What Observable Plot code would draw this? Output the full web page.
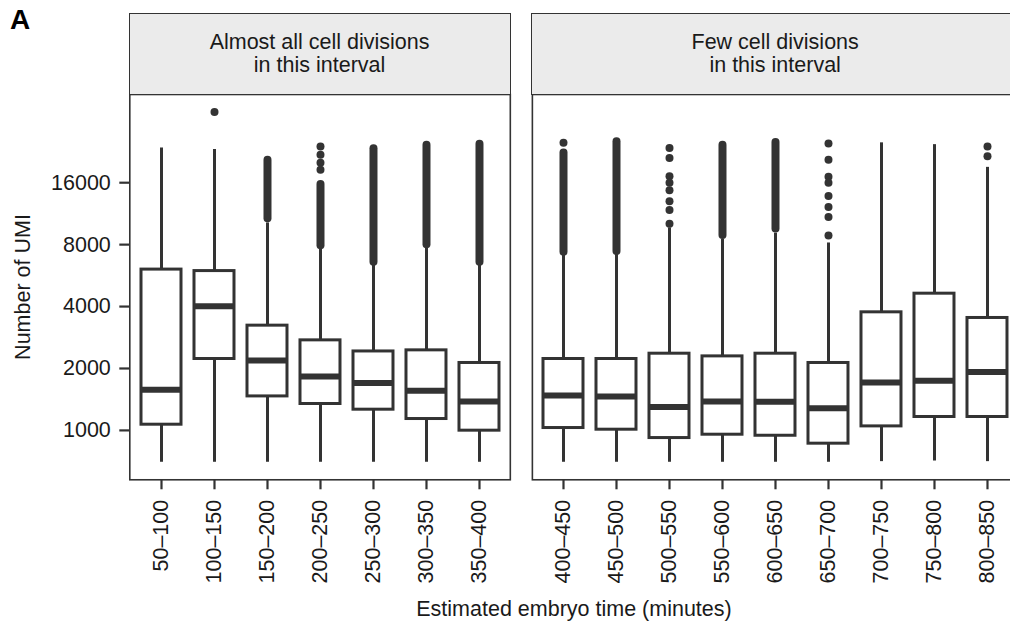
<!DOCTYPE html>
<html>
<head>
<meta charset="utf-8">
<script src="https://cdn.jsdelivr.net/npm/d3@7"></script>
<script src="https://cdn.jsdelivr.net/npm/@observablehq/plot@0.6"></script>
<style>
  html, body { margin: 0; padding: 0; background: #fff; }
  #figure {
    position: relative; width: 1010px; height: 628px; overflow: hidden;
    font-family: "Liberation Sans", Arial, Helvetica, sans-serif; color: #1a1a1a;
  }
  #figure > svg, #figure > .plot { position: absolute; top: 0; }
  .strip {
    position: absolute; box-sizing: border-box; background: #ebebeb;
    border: 1.6px solid #333; display: flex; flex-direction: column;
    align-items: center; justify-content: center; font-size: 21.5px; line-height: 23px;
  }
  .label { position: absolute; white-space: nowrap; line-height: 1; }
</style>
</head>
<body>
<div id="figure"></div>
<script>
// Time bins (minutes) for the two phases of embryo development
const earlyTimes = ["50–100", "100–150", "150–200", "200–250", "250–300", "300–350", "350–400"];
const lateTimes = ["400–450", "450–500", "500–550", "550–600", "600–650", "650–700", "700–750", "750–800", "800–850"];
const stripTitles = [["Almost all cell divisions", "in this interval"], ["Few cell divisions", "in this interval"]];

// Box-plot summaries of UMI counts per cell, in the order early then late bins
const whiskerLow = [700, 700, 700, 700, 700, 700, 700, 700, 700, 700, 700, 700, 700, 705, 710, 705];
const quartile1  = [1066, 2224, 1463, 1344, 1261, 1136, 997, 1027, 1008, 918, 953, 942, 862, 1046, 1162, 1162];
const medians    = [1577, 4010, 2190, 1830, 1700, 1560, 1384, 1480, 1463, 1300, 1384, 1378, 1280, 1711, 1745, 1923];
const quartile3  = [6050, 5950, 3230, 2740, 2420, 2450, 2127, 2224, 2224, 2360, 2290, 2360, 2127, 3750, 4620, 3520];
const whiskerHigh = [23600, 23200, 10200, 7700, 6400, 7800, 6400, 7100, 7200, 9650, 8500, 9100, 8150, 25000, 24500, 19000];

// Dense stacks of outlying cells: [bin, lowest, highest]
const outlierRuns = [
  ["150–200", 10700, 20600], ["200–250", 7900, 15700], ["250–300", 6560, 23400],
  ["300–350", 8000, 24300], ["350–400", 6560, 24600], ["400–450", 7340, 22300],
  ["450–500", 7400, 25300], ["550–600", 8850, 24300], ["600–650", 9540, 25100]
];
// Individual outlying cells: [bin, UMI]
const outlierPoints = [
  ["100–150", 35300],
  ["200–250", 24000], ["200–250", 21900], ["200–250", 20000], ["200–250", 18500],
  ["400–450", 25000],
  ["500–550", 23600], ["500–550", 21100], ["500–550", 17200], ["500–550", 16000],
  ["500–550", 14700], ["500–550", 13000], ["500–550", 11800], ["500–550", 10100],
  ["650–700", 24800], ["650–700", 20700], ["650–700", 17100], ["650–700", 16000],
  ["650–700", 13800], ["650–700", 12200], ["650–700", 10900], ["650–700", 8850],
  ["800–850", 24000], ["800–850", 21500]
];
const yTicks = [1000, 2000, 4000, 8000, 16000];

(function () {
  const times = [...earlyTimes, ...lateTimes];
  const boxes = times.map((time, i) => ({
    time, low: whiskerLow[i], q1: quartile1[i], median: medians[i], q3: quartile3[i], high: whiskerHigh[i]
  }));
  const runs = outlierRuns.map(([time, lo, hi]) => ({time, lo, hi}));
  const points = outlierPoints.map(([time, umi]) => ({time, umi}));

  // Shared log-scale domain: data extent padded by 5% of its log span
  const allValues = [...whiskerLow, ...whiskerHigh, ...outlierRuns.flatMap(d => d.slice(1)), ...outlierPoints.map(d => d[1])];
  const [lo, hi] = d3.extent(allValues);
  const pad = 0.05 * Math.log(hi / lo);
  const yDomain = [lo / Math.exp(pad), hi * Math.exp(pad)];

  const ink = "#333";
  const fontSize = 21.5;
  const H = 628, mTop = 94, mBottom = 148.7;
  const plain = d => String(d);

  function panel(cats, {left, width, marginLeft, yAxis}) {
    const inBins = d => cats.includes(d.time);
    const svg = Plot.plot({
      width, height: H,
      marginTop: mTop, marginBottom: mBottom, marginLeft, marginRight: 10,
      style: {fontFamily: "'Liberation Sans', Arial, sans-serif", fontSize: fontSize + "px", color: "#1a1a1a", background: "transparent", overflow: "visible"},
      x: {type: "band", domain: cats, paddingInner: 0.25, paddingOuter: 0.2, label: null},
      y: {type: "log", domain: yDomain, ticks: yTicks, tickFormat: plain, label: null, axis: null},
      marks: [
        Plot.ruleX(boxes.filter(inBins), {x: "time", y1: "low", y2: "q1", stroke: ink, strokeWidth: 3}),
        Plot.ruleX(boxes.filter(inBins), {x: "time", y1: "q3", y2: "high", stroke: ink, strokeWidth: 3}),
        Plot.ruleX(runs.filter(inBins), {x: "time", y1: "lo", y2: "hi", stroke: ink, strokeWidth: 8, strokeLinecap: "round"}),
        Plot.dot(points.filter(inBins), {x: "time", y: "umi", r: 4, fill: ink, stroke: null}),
        Plot.barY(boxes.filter(inBins), {x: "time", y1: "q1", y2: "q3", fill: "white", stroke: ink, strokeWidth: 3}),
        Plot.tickY(boxes.filter(inBins), {x: "time", y: "median", stroke: ink, strokeWidth: 6}),
        Plot.frame({stroke: ink, strokeWidth: 1.6}),
        // y axis: tick lines plus labels drawn as text at each tick value
        yAxis ? Plot.axisY(yTicks, {tickSize: 10, strokeWidth: 2.2, stroke: ink, text: null, label: null}) : null,
        yAxis ? Plot.text(yTicks, {y: d => d, text: plain, frameAnchor: "left", textAnchor: "end", dx: -19, fill: "#1a1a1a"}) : null,
        Plot.axisX({tickRotate: -90, tickSize: 10, tickPadding: 10, strokeWidth: 2.2, stroke: ink, label: null})
      ]
    });
    svg.style.left = left + "px";
    return svg;
  }

  const fig = document.getElementById("figure");
  const step = 53.22;                         // width of one time bin in px
  const span = n => step * (n - 0.25 + 0.4);  // panel width for n bins
  const p1 = {left: 0, marginLeft: 129.3};
  p1.width = p1.marginLeft + span(earlyTimes.length) + 10;
  const p2 = {left: p1.width, marginLeft: 531.7 - p1.width};
  p2.width = p2.marginLeft + span(lateTimes.length) + 10;

  fig.appendChild(panel(earlyTimes, {...p1, yAxis: true}));
  fig.appendChild(panel(lateTimes, {...p2, yAxis: false}));

  // Facet strips above each panel
  [[p1, stripTitles[0]], [p2, stripTitles[1]]].forEach(([p, lines]) => {
    const x0 = p.left + p.marginLeft, w = p.width - p.marginLeft - 10;
    const div = document.createElement("div");
    div.className = "strip";
    Object.assign(div.style, {left: (x0 - 0.8) + "px", top: (14 - 0.8) + "px", width: (w + 1.6) + "px", height: (mTop - 14 + 1.6) + "px"});
    lines.forEach(t => { const s = document.createElement("div"); s.textContent = t; div.appendChild(s); });
    fig.appendChild(div);
  });

  function addLabel(text, style) {
    const el = document.createElement("div");
    el.className = "label";
    el.textContent = text;
    Object.assign(el.style, style);
    fig.appendChild(el);
  }
  const xMid = (p1.marginLeft + p2.left + p2.width - 10) / 2;
  addLabel("A", {left: "10px", top: "6.3px", fontSize: "28px", fontWeight: "bold", color: "#000"});
  addLabel("Number of UMI", {left: "24.2px", top: ((mTop + H - mBottom) / 2) + "px", fontSize: fontSize + "px", transform: "translate(-50%,-50%) rotate(-90deg)"});
  addLabel("Estimated embryo time (minutes)", {left: xMid + "px", top: "598.5px", fontSize: fontSize + "px", transform: "translateX(-50%)"});
})();
</script>
</body>
</html>
